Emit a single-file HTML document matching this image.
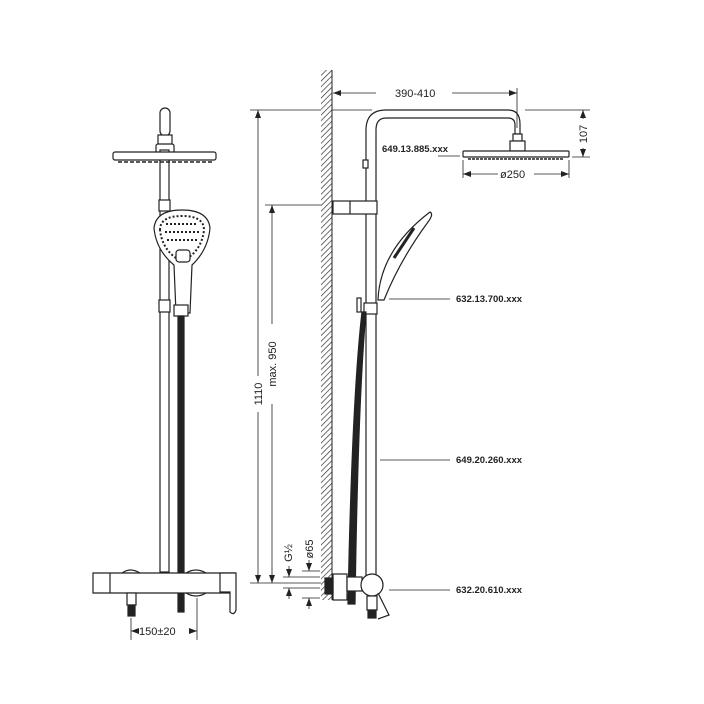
<!DOCTYPE html>
<html><head><meta charset="utf-8"><style>
html,body{margin:0;padding:0;background:#fff;}
svg{display:block;}
text{font-family:"Liberation Sans",sans-serif;fill:#222;}
</style></head><body>
<svg width="704" height="704" viewBox="0 0 704 704" xmlns="http://www.w3.org/2000/svg">
<defs>
<pattern id="h" width="4" height="4" patternUnits="userSpaceOnUse" patternTransform="rotate(45)">
<rect width="4" height="4" fill="#fff"/><line x1="0" y1="0" x2="0" y2="4" stroke="#333" stroke-width="1.4"/>
</pattern>
<marker id="a" markerWidth="8" markerHeight="6" refX="8" refY="3" orient="auto-start-reverse" markerUnits="userSpaceOnUse">
<path d="M0,0 L8,3 L0,6 z" fill="#222"/></marker>
</defs>
<g stroke="#222" stroke-width="1.2" fill="none">
<!-- LEFT VIEW -->
<rect x="160" y="108" width="10" height="28" rx="5" fill="#fff"/>
<rect x="158" y="135" width="14" height="10" fill="#fff"/>
<rect x="156" y="144" width="18" height="10" rx="2" fill="#fff"/>
<rect x="160" y="150" width="9" height="422" fill="#fff"/>
<rect x="113" y="152" width="103" height="8" rx="2" fill="#fff"/>
<line x1="118" y1="162" x2="212" y2="162" stroke-width="1.5" stroke-dasharray="4 2"/>
<rect x="159" y="200" width="11" height="11" fill="#fff"/>
<rect x="159" y="300" width="11" height="12" fill="#fff"/>
<path d="M176,313 L174,265 Q156,250 154,228 Q156,210 182,210 Q208,210 210,228 Q208,250 192,265 L190,313 Z" fill="#fff"/>
<path d="M160,230 Q160,216 182,216 Q204,216 204,230 Q202,248 188,258 L176,258 Q162,248 160,230 Z" stroke-dasharray="2 2" stroke-width="2"/>
<g stroke-dasharray="2 2" stroke-width="2">
<line x1="166" y1="224" x2="198" y2="224"/>
<line x1="165" y1="232" x2="199" y2="232"/>
<line x1="167" y1="240" x2="197" y2="240"/>
</g>
<rect x="176" y="250" width="14" height="12" rx="3" fill="#fff"/>
<rect x="174" y="305" width="14" height="11" fill="#fff"/>
<rect x="178" y="316" width="6" height="296" fill="#222"/>
<path d="M93,573 L235,573 L235,593 L93,593 Z" fill="#fff"/>
<line x1="110" y1="573" x2="110" y2="593"/>
<path d="M122,573 Q130,567 140,573"/><path d="M186,573 Q196,567 206,573"/>
<path d="M220,573 L236,573 L236,610 Q234,616 230,612 L230,592 L220,592 Z" fill="#fff"/>
<path d="M186,593 Q196,599 206,593"/>
<rect x="127" y="593" width="9" height="12" fill="#fff"/>
<rect x="128" y="605" width="7" height="11" fill="#222"/>
<!-- 150 dim -->
<line x1="131" y1="618" x2="131" y2="640" stroke-width="0.8"/>
<line x1="197" y1="598" x2="197" y2="640" stroke-width="0.8"/>
<line x1="131" y1="631" x2="139" y2="631" stroke-width="0.8" marker-start="url(#a)"/>
<line x1="189" y1="631" x2="197" y2="631" stroke-width="0.8" marker-end="url(#a)"/>
<!-- vertical dims -->
<g stroke-width="0.8">
<line x1="250" y1="110" x2="372" y2="110"/>
<line x1="265" y1="205" x2="328" y2="205"/>
<line x1="250" y1="583" x2="325" y2="583"/>
<line x1="258" y1="110" x2="258" y2="376" marker-start="url(#a)"/>
<line x1="258" y1="412" x2="258" y2="583" marker-end="url(#a)"/>
<line x1="272" y1="205" x2="272" y2="324" marker-start="url(#a)"/>
<line x1="272" y1="404" x2="272" y2="583" marker-end="url(#a)"/>
<line x1="283" y1="577" x2="320" y2="577"/>
<line x1="283" y1="588" x2="320" y2="588"/>
<line x1="302" y1="571" x2="320" y2="571"/>
<line x1="302" y1="598" x2="320" y2="598"/>
<line x1="289" y1="566" x2="289" y2="577" marker-end="url(#a)"/>
<line x1="289" y1="599" x2="289" y2="588" marker-end="url(#a)"/>
<line x1="309" y1="560" x2="309" y2="571" marker-end="url(#a)"/>
<line x1="309" y1="609" x2="309" y2="598" marker-end="url(#a)"/>
</g>
<!-- wall -->
<rect x="321" y="70" width="11" height="530" fill="url(#h)" stroke="none"/>
<line x1="332" y1="70" x2="332" y2="600" stroke-width="1"/>
<!-- RIGHT -->
<path d="M366,585 L366,130 Q366,110 386,110 L508,110 Q520,110 520,124 L520,134 L515,134 L515,125 Q515,118 508,118 L386,118 Q376,118 376,130 L376,585" fill="#fff"/>
<rect x="513" y="134" width="9" height="7" fill="#fff"/>
<rect x="510" y="141" width="15" height="10" fill="#fff"/>
<rect x="463" y="151" width="106" height="6" rx="1" fill="#fff"/>
<line x1="468" y1="159" x2="564" y2="159" stroke-width="1.5" stroke-dasharray="3 1"/>
<rect x="363" y="160" width="5" height="8" fill="#fff"/>
<rect x="333" y="201" width="44" height="13" fill="#fff"/>
<line x1="350" y1="201" x2="350" y2="214"/>
<path d="M378,300 Q380,250 430,212 Q434,214 428,222 Q400,260 384,300 Z" fill="#fff"/>
<line x1="394" y1="258" x2="414" y2="228" stroke-width="3"/>
<rect x="364" y="303" width="13" height="11" fill="#fff"/>
<rect x="357" y="298" width="4" height="14" fill="#fff"/>
<path d="M362,312 Q352,400 348,604 L355,604 Q358,400 366,312 Z" fill="#222"/>
<rect x="333" y="574" width="14" height="26" fill="#fff"/>
<rect x="325" y="578" width="8" height="16" fill="#222"/>
<rect x="347" y="577" width="15" height="14" fill="#fff"/>
<circle cx="372" cy="585" r="11" fill="#fff"/>
<rect x="367" y="596" width="10" height="14" fill="#fff"/>
<rect x="368" y="610" width="8" height="8" fill="#222"/>
<path d="M378,593 L389,615 L378,619" fill="#fff"/>
<g stroke-width="0.8">
<line x1="333" y1="93" x2="376" y2="93" marker-start="url(#a)"/>
<line x1="452" y1="93" x2="517" y2="93" marker-end="url(#a)"/>
<line x1="517" y1="88" x2="517" y2="128"/>
<line x1="525" y1="110" x2="590" y2="110"/>
<line x1="572" y1="157" x2="590" y2="157"/>
<line x1="583" y1="110" x2="583" y2="119" marker-start="url(#a)"/>
<line x1="583" y1="148" x2="583" y2="157" marker-end="url(#a)"/>
<line x1="463" y1="160" x2="463" y2="178"/>
<line x1="569" y1="160" x2="569" y2="178"/>
<line x1="463" y1="174" x2="498" y2="174" marker-start="url(#a)"/>
<line x1="534" y1="174" x2="569" y2="174" marker-end="url(#a)"/>
<line x1="438" y1="156" x2="460" y2="156"/>
<line x1="389" y1="299" x2="450" y2="299"/>
<line x1="380" y1="460" x2="450" y2="460"/>
<line x1="389" y1="590" x2="450" y2="590"/>
</g>
</g>
<g font-size="11">
<text x="139" y="635">150±20</text>
<text x="395" y="97">390-410</text>
<text x="500" y="178">ø250</text>
<text x="382" y="152" font-weight="bold" font-size="9.5">649.13.885.xxx</text>
<text x="456" y="302" font-weight="bold" font-size="9.5">632.13.700.xxx</text>
<text x="456" y="463" font-weight="bold" font-size="9.5">649.20.260.xxx</text>
<text x="456" y="593" font-weight="bold" font-size="9.5">632.20.610.xxx</text>
<text transform="translate(587,134) rotate(-90)" text-anchor="middle">107</text>
<text transform="translate(262,394) rotate(-90)" text-anchor="middle">1110</text>
<text transform="translate(276,364) rotate(-90)" text-anchor="middle">max. 950</text>
<text transform="translate(292,553) rotate(-90)" text-anchor="middle">G½</text>
<text transform="translate(313,549) rotate(-90)" text-anchor="middle">ø65</text>
</g>
</svg>
</body></html>
